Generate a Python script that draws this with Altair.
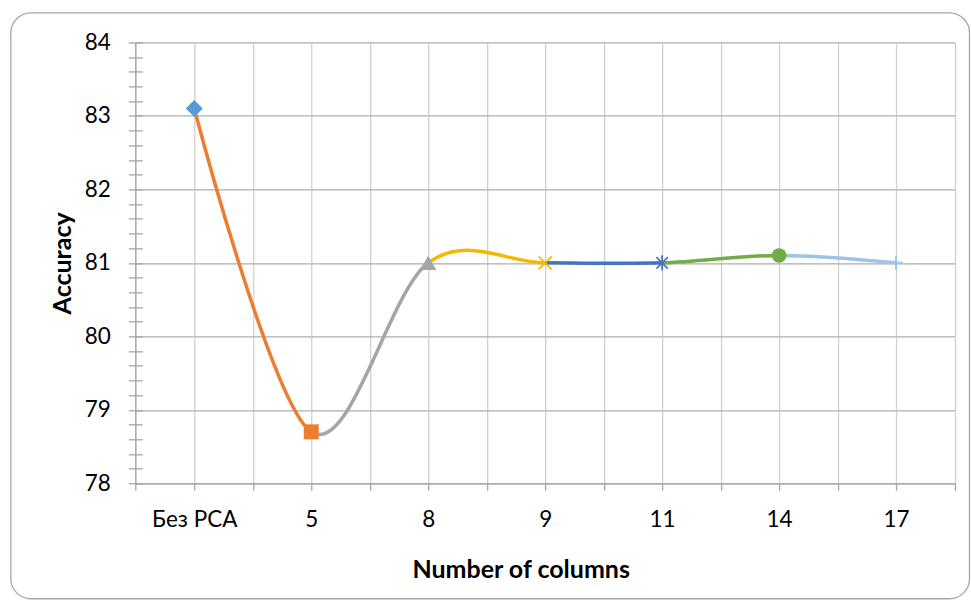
import json
import altair as alt
import pandas as pd

# ---------------- data ----------------
categories = ["Без PCA", "5", "8", "9", "11", "14", "17"]
accuracy = [83.1, 78.7, 81.0, 81.0, 81.0, 81.1, 81.0]
y_major_ticks = [78, 79, 80, 81, 82, 83, 84]
y_all_ticks = [78, 78.2, 78.4, 78.6, 78.8, 79, 79.2, 79.4, 79.6, 79.8, 80, 80.2, 80.4, 80.6, 80.8,
               81, 81.2, 81.4, 81.6, 81.8, 82, 82.2, 82.4, 82.6, 82.8, 83, 83.2, 83.4, 83.6, 83.8, 84]
y_minor_ticks = [v for v in y_all_ticks if v not in y_major_ticks]

# ---------------- styles ----------------
FONT = "Lato"
LABEL_FS = 22.5
TITLE_FS = 25
UNIT = 117
PLOT_H = 441
AXIS_COLOR = "#A6A6A6"
GRID_V_COLOR = "#D0D0D0"
GRID_H_COLOR = "#ADADAD"
LINE_W = 3.5
# plot area origin in the page is (135, 42); frame runs from (10,12) to (969.5,598.5)
FRAME = dict(x=-124.5, y=-29.5, x2=834.5, y2=556.5)

point_colors = ["#5B9BD5", "#ED7D31", "#A5A5A5", "#F5B800", "#4472C4", "#70AD47", "#9DC3E6"]
line_colors = point_colors[1:]  # each segment takes the colour of its end point

X_PATH = "M-1,-1L1,1M-1,1L1,-1"
STAR_PATH = "M-0.75,-0.75L0.75,0.75M-0.75,0.75L0.75,-0.75M0,-1L0,1"
PLUS_PATH = "M0,-1L0,1M-1,0L1,0"
markers = [
    dict(shape="diamond", filled=True, size=290),
    dict(shape="square", filled=True, size=225),
    dict(shape="triangle-up", filled=True, size=270),
    dict(shape=X_PATH, filled=False, size=170, strokeWidth=1.7),
    dict(shape=STAR_PATH, filled=False, size=230, strokeWidth=1.7),
    dict(shape="circle", filled=True, size=215),
    dict(shape=PLUS_PATH, filled=False, size=180, strokeWidth=2),
]

df = pd.DataFrame({"idx": list(range(len(categories))), "category": categories, "acc": accuracy})
one = pd.DataFrame({"s": [0]})

y_scale = alt.Scale(domain=[y_major_ticks[0], y_major_ticks[-1]], nice=False, zero=False)


def x_encoding(lo, hi, tick_vals, label_at=None, title=None, title_x=0):
    axis = dict(values=tick_vals, grid=True, gridColor=GRID_V_COLOR, gridWidth=1.3,
                domain=True, domainColor=AXIS_COLOR, domainWidth=1.3,
                ticks=True, tickColor=AXIS_COLOR, tickWidth=1.3, tickSize=7,
                labelFont=FONT, labelFontSize=LABEL_FS, labelColor="#000000", labelPadding=18,
                labelFlush=False, labelOverlap=False, labelBound=False, labelAngle=0)
    if label_at is None:
        axis["labels"] = False
    else:
        axis["labelExpr"] = (f"datum.value == {label_at} ? "
                             f"{json.dumps(categories[label_at], ensure_ascii=False)} : ''")
    if title:
        axis.update(title=title, titleX=title_x, titleY=94, titleAlign="center",
                    titleBaseline="alphabetic", titleFont=FONT, titleFontSize=TITLE_FS,
                    titleFontWeight="bold", titleColor="#000000")
    else:
        axis["title"] = None
    return alt.X("idx:Q", scale=alt.Scale(domain=[lo, hi], nice=False, zero=False),
                 axis=alt.Axis(**axis))


y_grid = alt.Y("acc:Q", scale=y_scale,
               axis=alt.Axis(values=y_major_ticks, grid=True, gridColor=GRID_H_COLOR, gridWidth=1.3,
                             labels=False, ticks=False, domain=False, title=None))


def marker_layer(i, x):
    m = markers[i]
    return (alt.Chart(df).transform_filter(alt.datum.idx == i)
            .mark_point(opacity=1, clip=False, color=point_colors[i], **m)
            .encode(x=x, y=y_grid))


def line_layer(x, color):
    return (alt.Chart(df)
            .mark_line(interpolate="cardinal", tension=0, clip=True, color=color, strokeWidth=LINE_W)
            .encode(x=x, y=y_grid))


# ---- left padding panel with the y axis (and the chart frame) ----
x_lp = x_encoding(-0.5, 0, [-0.5])
yA = alt.Y("acc:Q", scale=y_scale,
           axis=alt.Axis(values=y_major_ticks, orient="left", grid=True, gridColor=GRID_H_COLOR, gridWidth=1.3,
                         domain=True, domainColor=AXIS_COLOR, domainWidth=1.3,
                         ticks=True, tickColor=AXIS_COLOR, tickWidth=1.3, tickSize=7,
                         labelFont=FONT, labelFontSize=LABEL_FS, labelColor="#000000", labelPadding=18,
                         format="d", title="Accuracy", titleFont=FONT, titleFontSize=TITLE_FS,
                         titleFontWeight="bold", titleColor="#000000", titleX=-73, titleY=PLOT_H / 2,
                         titleAlign="center", titleBaseline="middle"))
yB = alt.Y("acc:Q", scale=y_scale,
           axis=alt.Axis(values=y_minor_ticks, orient="left", grid=False, domain=False, labels=False,
                         ticks=True, tickColor=AXIS_COLOR, tickWidth=1.3, tickSize=7, title=None))
yC = alt.Y("acc:Q", scale=y_scale,
           axis=alt.Axis(values=y_all_ticks, orient="left", offset=-7, grid=False, domain=False, labels=False,
                         ticks=True, tickColor=AXIS_COLOR, tickWidth=1.3, tickSize=7, title=None))

frame = alt.Chart(one).mark_rect(
    cornerRadius=20, fillOpacity=0, stroke="#A6A6A6", strokeWidth=1.3, clip=False
).encode(x=alt.value(FRAME["x"]), x2=alt.value(FRAME["x2"]),
         y=alt.value(FRAME["y"]), y2=alt.value(FRAME["y2"]))

left_pad = alt.layer(
    alt.Chart(df).mark_point(opacity=0).encode(x=x_lp, y=yA),
    alt.Chart(df).mark_point(opacity=0).encode(x=x_lp, y=yB),
    alt.Chart(df).mark_point(opacity=0).encode(x=x_lp, y=yC),
    frame,
).resolve_axis(y="independent").properties(width=UNIT / 2, height=PLOT_H)

# ---- one panel per coloured segment ----
segments = []
for k in range(len(categories) - 1):
    if k == 2:
        xk = x_encoding(k, k + 1, [k, k + 0.5], label_at=k, title="Number of columns", title_x=92.5)
    else:
        xk = x_encoding(k, k + 1, [k, k + 0.5], label_at=k)
    segments.append(
        alt.layer(line_layer(xk, line_colors[k]), marker_layer(k, xk))
        .properties(width=UNIT, height=PLOT_H)
    )

last = len(categories) - 1
x_rp = x_encoding(last, last + 0.5, [last, last + 0.5], label_at=last)
right_pad = alt.layer(marker_layer(last, x_rp)).properties(width=UNIT / 2, height=PLOT_H)

chart = (
    alt.hconcat(left_pad, *segments, right_pad, spacing=0, bounds="flush")
    .properties(padding={"left": 9.35, "top": 11.35, "right": 0, "bottom": 0})
    .configure(font=FONT, background="white")
    .configure_view(stroke="transparent")
)

chart.save("out.html", embed_options={"renderer": "svg", "actions": False})
